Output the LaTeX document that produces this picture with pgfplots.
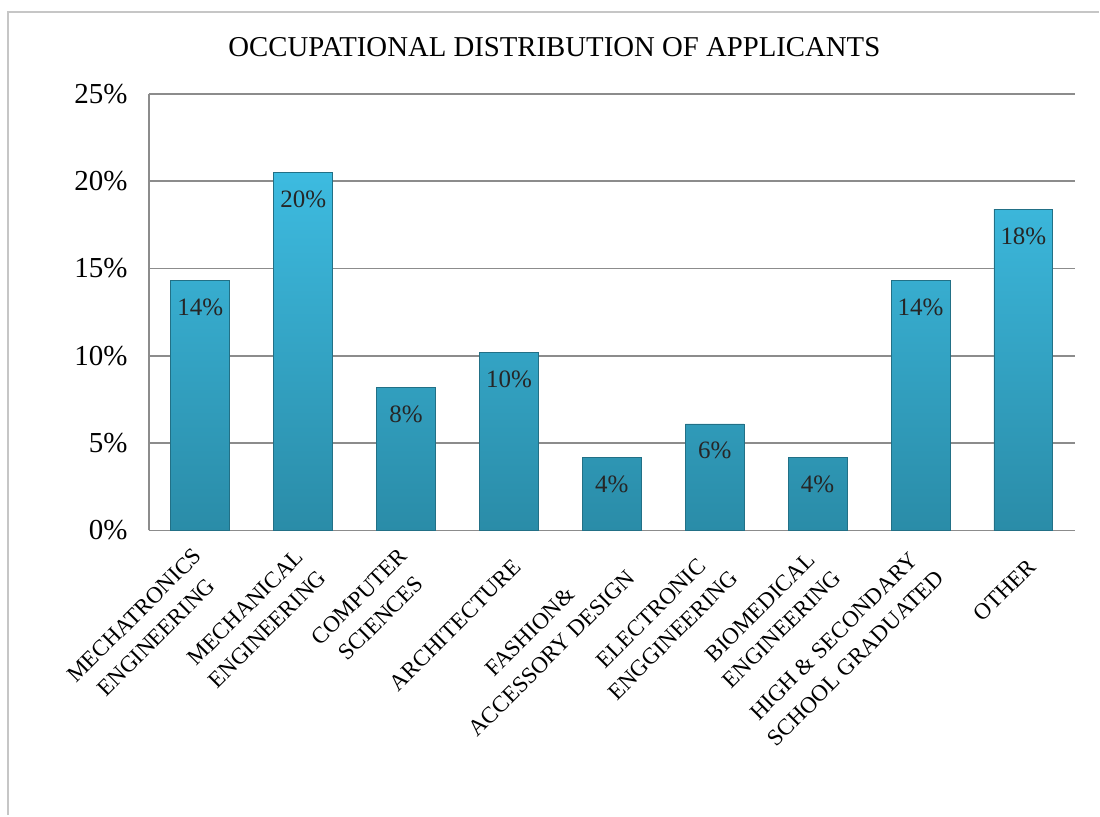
\documentclass[border=0pt]{standalone}
\usepackage{pgfplots}
\pgfplotsset{compat=1.18}
\usepackage{fontspec}
\setmainfont{Liberation Serif}
\definecolor{bartop}{HTML}{3DBBE0}
\definecolor{barbot}{HTML}{2A8CA8}
\definecolor{gridc}{HTML}{8C8C8C}
\begin{document}
\begin{tikzpicture}[x=0.5pt,y=0.5pt]
% overall bounding box in px coordinates relative to plot corner (149,531)
\path (-149,531) rectangle (951,-285);
\draw[gray!45, line width=1.2pt] (-141,-285) -- (-141,519) -- (951,519);
\node[font=\fontsize{14.4}{16}\selectfont] at (406,484) {OCCUPATIONAL DISTRIBUTION OF APPLICANTS};
\begin{axis}[
  at={(0,0)}, anchor=south west,
  scale only axis,
  width=463.5pt, height=218.5pt,
  xmin=-0.5, xmax=8.5,
  ymin=0, ymax=25,
  axis x line*=bottom, axis y line*=left,
  axis line style={gridc, line width=0.8pt, -},
  xtick={0,...,8},
  xticklabels={{MECHATRONICS\\ENGINEERING},{MECHANICAL\\ENGINEERING},{COMPUTER\\SCIENCES},{ARCHITECTURE},{FASHION\&\\ACCESSORY DESIGN},{ELECTRONIC\\ENGGINEERING},{BIOMEDICAL\\ENGINEERING},{HIGH \& SECONDARY\\SCHOOL GRADUATED},{OTHER}},
  ytick={0,5,10,15,20,25},
  yticklabels={0\%,5\%,10\%,15\%,20\%,25\%},
  major tick length=0pt,
  tick style={draw=none},
  ymajorgrids,
  grid style={gridc, line width=0.8pt},
  xticklabel style={font=\fontsize{11.5}{15.4}\selectfont, rotate=45, anchor=east, align=center, inner sep=0pt, xshift=-8.5pt, yshift=-14.5pt},
  yticklabel style={font=\fontsize{14.5}{16}\selectfont, anchor=east, inner sep=0pt, xshift=-10.5pt},
  ybar, bar width=29.5pt,
  point meta=explicit symbolic,
  nodes near coords,
  every node near coord/.append style={anchor=north, inner sep=0pt, yshift=-9pt, font=\fontsize{12.5}{14}\selectfont, text=black!85},
  clip=false,
]
\addplot[draw=barbot!80!black, line width=0.4pt, top color=bartop, bottom color=barbot, shading=axis] coordinates {
(0,14.3) [14\%]
(1,20.5) [20\%]
(2,8.2) [8\%]
(3,10.2) [10\%]
(4,4.2) [4\%]
(5,6.1) [6\%]
(6,4.2) [4\%]
(7,14.3) [14\%]
(8,18.4) [18\%]
};
\end{axis}
\end{tikzpicture}
\end{document}
